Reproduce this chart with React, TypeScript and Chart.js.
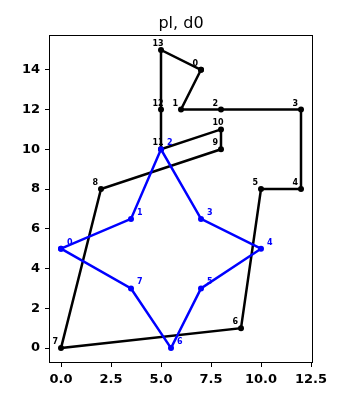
import React, { useEffect, useRef } from "react";
import { Chart, registerables } from "chart.js";

Chart.register(...registerables);

const titleText = "pl, d0";
const blackX = [7, 6, 8, 12, 12, 10, 9, 0, 2, 8, 8, 5, 5, 5];
const blackY = [14, 12, 12, 12, 8, 8, 1, 0, 8, 10, 11, 10, 12, 15];
const blueX = [0, 3.5, 5, 7, 10, 7, 5.5, 3.5];
const blueY = [5, 6.5, 10, 6.5, 5, 3, 0, 3];
const xTicks = [0, 2.5, 5, 7.5, 10, 12.5];
const yTicks = [0, 2, 4, 6, 8, 10, 12, 14];

const closed = (xs: number[], ys: number[]) => {
  const pts = xs.map((x, i) => ({ x, y: ys[i] }));
  pts.push({ x: xs[0], y: ys[0] });
  return pts;
};

const FONT = "'DejaVu Sans', sans-serif";

const overlayPlugin = {
  id: "overlay",
  afterDraw(chart: any) {
    const ctx = chart.ctx;
    const { left, right, top, bottom } = chart.chartArea;
    const xs = chart.scales.x;
    const ys = chart.scales.y;
    ctx.save();
    ctx.strokeStyle = "#000";
    ctx.lineWidth = 1;
    ctx.strokeRect(left + 0.5, top + 0.5, right - left - 1, bottom - top - 1);
    ctx.fillStyle = "#000";
    ctx.font = `16px ${FONT}`;
    ctx.textAlign = "center";
    ctx.textBaseline = "alphabetic";
    ctx.fillText(titleText, (left + right) / 2, 28);
    ctx.font = `bold 8px ${FONT}`;
    ctx.textAlign = "left";
    ctx.fillStyle = "#000";
    blackX.forEach((x, i) => {
      const px = xs.getPixelForValue(x);
      const py = ys.getPixelForValue(blackY[i]);
      ctx.fillText(String(i), px - 8.5, py - 4);
    });
    ctx.fillStyle = "#0000ff";
    blueX.forEach((x, i) => {
      const px = xs.getPixelForValue(x);
      const py = ys.getPixelForValue(blueY[i]);
      ctx.fillText(String(i), px + 6, py - 4);
    });
    ctx.restore();
  },
};

export default function App() {
  const ref = useRef<HTMLCanvasElement>(null);
  useEffect(() => {
    if (!ref.current) return;
    const tickFont = { family: FONT, size: 13, weight: "bold" };
    const chart = new Chart(ref.current, {
      type: "scatter",
      data: {
        datasets: [
          {
            data: closed(blueX, blueY),
            showLine: true,
            borderColor: "#0000ff",
            backgroundColor: "#0000ff",
            borderWidth: 2.5,
            pointRadius: 3,
            pointBorderWidth: 0,
            order: 0,
          },
          {
            data: closed(blackX, blackY),
            showLine: true,
            borderColor: "#000",
            backgroundColor: "#000",
            borderWidth: 2.5,
            pointRadius: 3,
            pointBorderWidth: 0,
            order: 1,
          },
        ],
      },
      options: {
        animation: false,
        responsive: false,
        events: [],
        layout: { padding: { top: 35, right: 48, left: 0, bottom: 0 } },
        plugins: { legend: { display: false }, tooltip: { enabled: false }, title: { display: false } },
        scales: {
          x: {
            type: "linear",
            min: -0.6,
            max: 12.6,
            afterBuildTicks: (s: any) => {
              s.ticks = xTicks.map((v) => ({ value: v }));
            },
            afterFit: (s: any) => {
              s.height = 37;
            },
            grid: { display: true, drawOnChartArea: false, drawTicks: true, tickLength: 4, color: "#000", tickWidth: 1 },
            border: { display: false },
            ticks: {
              padding: 5,
              maxRotation: 0,
              autoSkip: false,
              color: "#000",
              font: tickFont,
              callback: (v: any) => Number(v).toFixed(1),
            },
          },
          y: {
            type: "linear",
            min: -0.75,
            max: 15.75,
            afterBuildTicks: (s: any) => {
              s.ticks = yTicks.map((v) => ({ value: v }));
            },
            afterFit: (s: any) => {
              s.width = 49;
            },
            grid: { display: true, drawOnChartArea: false, drawTicks: true, tickLength: 4, color: "#000", tickWidth: 1 },
            border: { display: false },
            ticks: {
              padding: 5,
              autoSkip: false,
              color: "#000",
              font: tickFont,
              callback: (v: any) => String(v),
            },
          },
        },
      } as any,
      plugins: [overlayPlugin],
    });
    return () => chart.destroy();
  }, []);
  return (
    <div style={{ position: "absolute", left: 0, top: 0, width: 361, height: 400, background: "#fff" }}>
      <canvas ref={ref} width={361} height={400} />
    </div>
  );
}
